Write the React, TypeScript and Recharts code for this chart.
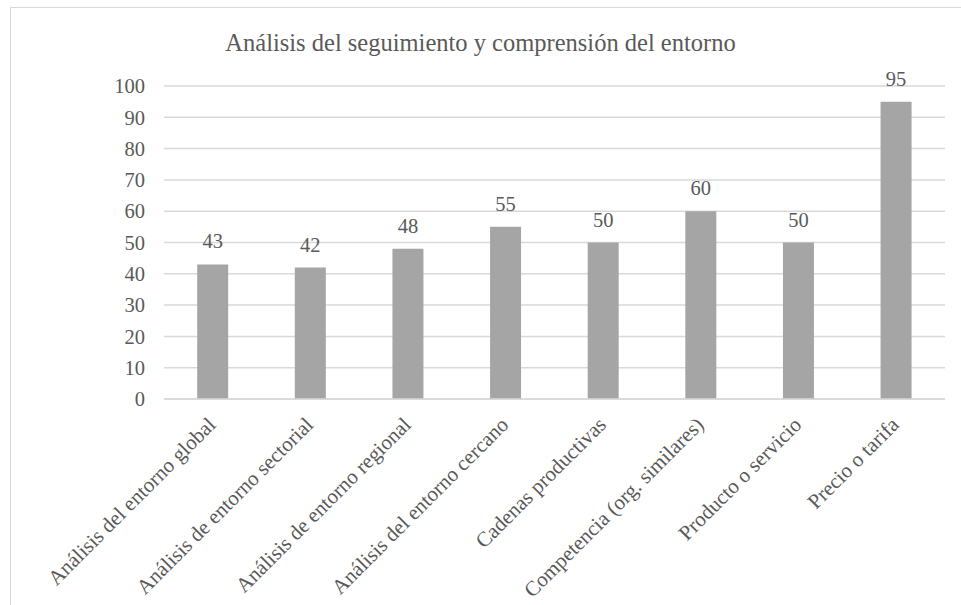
import { Bar, BarChart, CartesianGrid, LabelList, XAxis, YAxis } from 'recharts'

const categories = [
    'Análisis del entorno global',
    'Análisis de entorno sectorial',
    'Análisis de entorno regional',
    'Análisis del entorno cercano',
    'Cadenas productivas',
    'Competencia (org. similares)',
    'Producto o servicio',
    'Precio o tarifa',
]
const values = [43, 42, 48, 55, 50, 60, 50, 95]
const yTicks = [0, 10, 20, 30, 40, 50, 60, 70, 80, 90, 100]

const chartData = categories.map((name, i) => ({ name, value: values[i] }))

const font = '"Liberation Serif", "Times New Roman", serif'
const textColor = '#595959'
const gridColor = '#D9D9D9'

function SlantedTick(props: any) {
    const { x, y, payload } = props
    return (
        <g transform={`translate(${x},${y})`}>
            <text
                x={0}
                y={0}
                transform="translate(4,27) rotate(-45)"
                textAnchor="end"
                fill={textColor}
                fontSize={21}
                fontFamily={font}
            >
                {payload.value}
            </text>
        </g>
    )
}

export default function App() {
    return (
        <div style={{ position: 'absolute', left: 0, top: 0, width: 961, height: 605, overflow: 'hidden', fontFamily: font }}>
            <div
                style={{
                    position: 'absolute',
                    left: 10,
                    top: 7,
                    width: 1000,
                    height: 700,
                    border: `1px solid ${gridColor}`,
                }}
            />
            <div
                style={{
                    position: 'absolute',
                    left: 0,
                    top: 29,
                    width: 961,
                    textAlign: 'center',
                    fontSize: 24.5,
                    color: textColor,
                }}
            >
                Análisis del seguimiento y comprensión del entorno
            </div>
            <div style={{ position: 'absolute', left: 0, top: 0 }}>
                <BarChart
                    width={961}
                    height={605}
                    data={chartData}
                    margin={{ top: 86, right: 16, left: 104, bottom: 0 }}
                    barCategoryGap="34%"
                    style={{ fontFamily: font }}
                >
                    <CartesianGrid stroke={gridColor} strokeWidth={1.5} vertical={false} />
                    <XAxis
                        dataKey="name"
                        interval={0}
                        height={206}
                        tickLine={false}
                        tickSize={0}
                        tickMargin={0}
                        axisLine={{ stroke: gridColor, strokeWidth: 1.5 }}
                        tick={<SlantedTick />}
                    />
                    <YAxis
                        domain={[0, 100]}
                        ticks={yTicks}
                        width={60}
                        axisLine={false}
                        tickLine={false}
                        tickMargin={13}
                        tick={{ fill: textColor, fontSize: 20.5, fontFamily: font }}
                    />
                    <Bar dataKey="value" fill="#A5A5A5" isAnimationActive={false}>
                        <LabelList
                            dataKey="value"
                            position="top"
                            offset={16}
                            fill={textColor}
                            fontSize={20.5}
                            fontFamily={font}
                        />
                    </Bar>
                </BarChart>
            </div>
        </div>
    )
}
